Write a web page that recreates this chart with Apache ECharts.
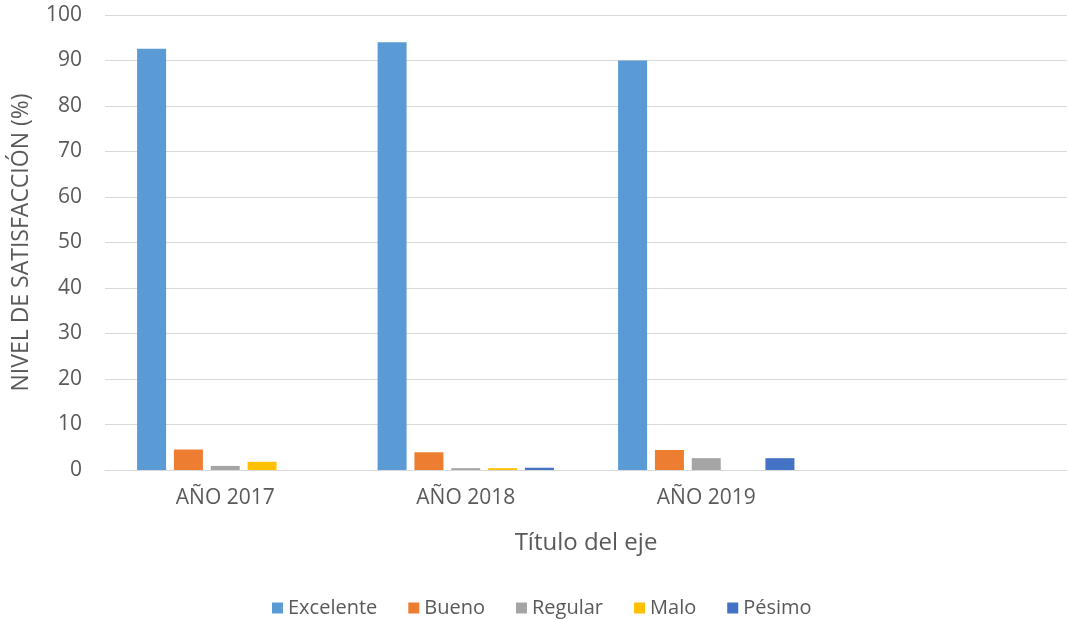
<!DOCTYPE html>
<html>
<head>
<meta charset="utf-8">
<script src="https://cdn.jsdelivr.net/npm/echarts@6/dist/echarts.min.js"></script>
<style>html,body{margin:0;padding:0;background:#fff;}#main{width:1067px;height:620px;}</style>
</head>
<body>
<div id="main"></div>
<script>
const categories = ['AÑO 2017', 'AÑO 2018', 'AÑO 2019', ''];
const seriesNames = ['Excelente', 'Bueno', 'Regular', 'Malo', 'Pésimo'];
const excelente = [92.6, 94.0, 90.0, null];
const bueno = [4.5, 3.9, 4.4, null];
const regular = [0.9, 0.4, 2.6, null];
const malo = [1.8, 0.4, 0, null];
const pesimo = [0, 0.5, 2.6, null];
const colors = ['#5B9BD5', '#ED7D31', '#A5A5A5', '#FFC000', '#4472C4'];
const yTicks = [0, 10, 20, 30, 40, 50, 60, 70, 80, 90, 100];

const values = [excelente, bueno, regular, malo, pesimo];
const font = '"Open Sans", "Noto Sans", sans-serif';
const chart = echarts.init(document.getElementById('main'));
chart.setOption({
  animation: false,
  color: colors,
  grid: { left: 105, top: 15, width: 972, height: 455, containLabel: false },
  legend: {
    top: 593, left: 267, itemWidth: 11, itemHeight: 11, itemGap: 31,
    icon: 'rect',
    textStyle: { color: '#595959', fontSize: 20, fontFamily: font },
    data: seriesNames
  },
  xAxis: {
    type: 'category', data: categories,
    name: 'Título del eje', nameLocation: 'middle', nameGap: 61,
    nameTextStyle: { color: '#595959', fontSize: 24, fontFamily: font },
    axisLine: { lineStyle: { color: '#d9d9d9' } },
    axisTick: { show: false },
    axisLabel: { color: '#595959', fontSize: 21, fontFamily: font, margin: 18 }
  },
  yAxis: {
    type: 'value', min: yTicks[0], max: yTicks[yTicks.length - 1], interval: 10,
    name: 'NIVEL DE SATISFACCIÓN (%)', nameLocation: 'middle', nameGap: 72,
    nameTextStyle: { color: '#595959', fontSize: 23, fontFamily: font },
    axisLine: { show: false }, axisTick: { show: false },
    axisLabel: { color: '#595959', fontSize: 21, fontFamily: font, margin: 23 },
    splitLine: { lineStyle: { color: '#d9d9d9' } }
  },
  series: seriesNames.map((n, i) => ({
    name: n, type: 'bar', data: values[i], barWidth: 29, barGap: '27%'
  }))
});
</script>
</body>
</html>
